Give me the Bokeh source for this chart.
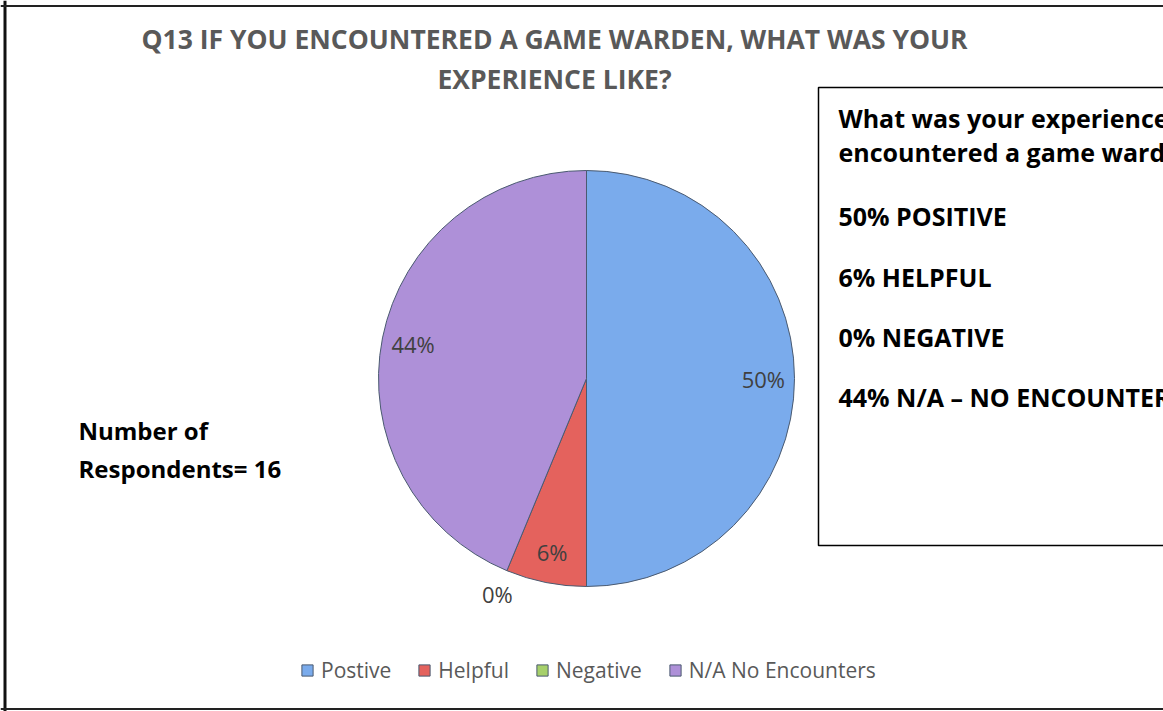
import math
from bokeh.plotting import figure
from bokeh.models import ColumnDataSource, Range1d, Span, Legend, LegendItem
from bokeh.core.properties import value
from bokeh.embed import file_html
from bokeh.resources import INLINE

# ---- data ----
categories = ["Postive", "Helpful", "Negative", "N/A No Encounters"]
counts = [8, 1, 0, 7]
percent_labels = ["50%", "6%", "0%", "44%"]
colors = ["#7AABEC", "#E4625D", "#A6D06A", "#AE90D8"]
title_lines = ["Q13 IF YOU ENCOUNTERED A GAME WARDEN, WHAT WAS YOUR", "EXPERIENCE LIKE?"]
box_lines = ["What was your experience", "encountered a game warden",
             "50% POSITIVE", "6% HELPFUL", "0% NEGATIVE", "44% N/A \u2013 NO ENCOUNTERS"]
respondent_lines = ["Number of", "Respondents= 16"]

FONT = value("Open Sans")
W, H = 1163, 711

p = figure(width=W, height=H, x_range=Range1d(0, W), y_range=Range1d(0, H),
           output_backend="svg", toolbar_location=None, min_border=0,
           x_axis_location=None, y_axis_location=None)
p.grid.visible = False
p.outline_line_color = None
p.background_fill_color = "white"
p.border_fill_color = "white"

# outer chart border (left/top/bottom; right side runs past the window)
p.add_layout(Span(location=4.5, dimension="height", line_color="#111111", line_width=3))
p.add_layout(Span(location=H - 5.5, dimension="width", line_color="#222222", line_width=2))
p.add_layout(Span(location=2.5, dimension="width", line_color="#222222", line_width=2))

# ---- pie ----
cx, cy, R = 586, 333, 208
total = float(sum(counts))
starts, ends, mids = [], [], []
cum = 0.0
for c in counts:
    a0 = math.pi / 2 - 2 * math.pi * cum / total
    cum += c
    a1 = math.pi / 2 - 2 * math.pi * cum / total
    starts.append(a0)
    ends.append(a1)
    mids.append((a0 + a1) / 2)
radii = [R if c > 0 else 0 for c in counts]

src = ColumnDataSource(dict(cat=categories, count=counts, start=starts, end=ends,
                            color=colors, r=radii))
wedges = p.wedge(x=cx, y=cy, radius="r", start_angle="start", end_angle="end",
                 direction="clock", fill_color="color", line_color="#4A5A70",
                 line_width=1, source=src)

lab_x, lab_y = [], []
for c, m in zip(counts, mids):
    rr = 0.85 * R if c > 0 else 1.12 * R
    lab_x.append(cx + rr * math.cos(m))
    lab_y.append(cy + rr * math.sin(m))
p.text(x=lab_x, y=lab_y, text=percent_labels, text_font=FONT,
       text_font_size=value("22px"), text_color="#404040",
       text_align="center", text_baseline="middle")

# ---- title ----
p.text(x=[554, 554], y=[673, 633], text=title_lines, text_font=FONT,
       text_font_style="bold", text_font_size=value("26.5px"), text_color="#595959",
       text_align="center", text_baseline="middle")

# ---- respondents note ----
p.text(x=[78, 78], y=[281, 243], text=respondent_lines, text_font=FONT,
       text_font_style="bold", text_font_size=value("24px"), text_color="#000000",
       text_align="left", text_baseline="middle")

# ---- text box on the right ----
p.quad(left=[818], right=[W + 60], top=[H - 87], bottom=[H - 545],
       fill_color="white", fill_alpha=0, line_color="#000000", line_width=1.5)
p.text(x=[838] * 6, y=[H - v for v in (117, 151, 215, 276, 336, 396)], text=box_lines,
       text_font=FONT, text_font_style="bold", text_font_size=value("25px"),
       text_color="#000000", text_align="left", text_baseline="middle")

# ---- legend ----
items = [LegendItem(label=cat, renderers=[wedges], index=i) for i, cat in enumerate(categories)]
legend = Legend(items=items, orientation="horizontal", location=(300, 27),
                label_text_font="Open Sans", label_text_font_size="21px",
                label_text_color="#595959", glyph_width=14, glyph_height=14,
                label_standoff=7, spacing=26, padding=0, margin=0,
                border_line_color=None, background_fill_alpha=0, label_height=22)
p.add_layout(legend)

open("out.html", "w").write(file_html(p, INLINE))
